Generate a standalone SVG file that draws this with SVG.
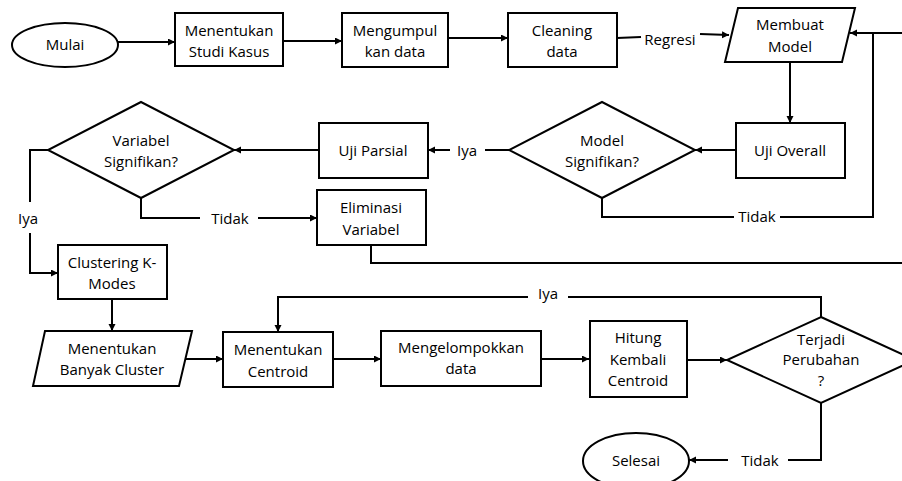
<svg xmlns="http://www.w3.org/2000/svg" width="902" height="481" viewBox="0 0 902 481">
<style>
.s{fill:#fff;stroke:#000;stroke-width:2}
.c{fill:none;stroke:#000;stroke-width:2}
text{font-family:"Open Sans","Noto Sans","Liberation Sans",sans-serif;font-size:15px;fill:#000;text-anchor:middle}
</style>
<defs>
<marker id="a" markerUnits="userSpaceOnUse" markerWidth="8" markerHeight="8" refX="7" refY="3.5" orient="auto">
<path d="M0,0 L7,3.5 L0,7 z" fill="#000"/>
</marker>
</defs>
<rect width="902" height="481" fill="#fff"/>
<g id="connectors">
<path class="c" d="M118,42 H175" marker-end="url(#a)"/>
<path class="c" d="M283,41 H342" marker-end="url(#a)"/>
<path class="c" d="M448,38 H508" marker-end="url(#a)"/>
<path class="c" d="M617,38 L641,37"/>
<text x="670" y="45">Regresi</text>
<path class="c" d="M700,34 L729,35" marker-end="url(#a)"/>
<path class="c" d="M790,63 V123" marker-end="url(#a)"/>
<path class="c" d="M902,33 H850" marker-end="url(#a)"/>
<path class="c" d="M873,33 V217 H780"/>
<path class="c" d="M734,217 H602 V198"/>
<text x="757" y="222">Tidak</text>
<path class="c" d="M736,150 H695" marker-end="url(#a)"/>
<path class="c" d="M509,150 H485"/>
<text x="467" y="156">Iya</text>
<path class="c" d="M450,150 H428" marker-end="url(#a)"/>
<path class="c" d="M319,150 H234" marker-end="url(#a)"/>
<path class="c" d="M141,198 V218 H200"/>
<text x="230" y="224">Tidak</text>
<path class="c" d="M258,218 H317" marker-end="url(#a)"/>
<path class="c" d="M371,245 V263 H902"/>
<path class="c" d="M48,150 H30 V202"/>
<text x="28" y="224">Iya</text>
<path class="c" d="M30,233 V273 H58" marker-end="url(#a)"/>
<path class="c" d="M112,299 V331" marker-end="url(#a)"/>
<path class="c" d="M186,359 H223" marker-end="url(#a)"/>
<path class="c" d="M333,359 H381" marker-end="url(#a)"/>
<path class="c" d="M541,359 H589" marker-end="url(#a)"/>
<path class="c" d="M687,360 H727" marker-end="url(#a)"/>
<path class="c" d="M821,317 V297 H568"/>
<text x="548" y="299">Iya</text>
<path class="c" d="M528,297 H278 V332" marker-end="url(#a)"/>
<path class="c" d="M821,403 V460 H788"/>
<text x="760" y="466">Tidak</text>
<path class="c" d="M728,460 H689" marker-end="url(#a)"/>
</g>
<g id="mulai"><ellipse class="s" cx="65" cy="45" rx="53" ry="22"/><text x="65" y="50">Mulai</text></g>
<g id="studi"><rect class="s" x="175" y="13" width="108" height="53"/><text x="229" y="36">Menentukan</text><text x="229" y="57">Studi Kasus</text></g>
<g id="mengumpul"><rect class="s" x="342" y="13" width="106" height="54"/><text x="395" y="36">Mengumpul</text><text x="395" y="57">kan data</text></g>
<g id="cleaning"><rect class="s" x="508" y="13" width="109" height="54"/><text x="562" y="36">Cleaning</text><text x="562" y="57">data</text></g>
<g id="membuat"><polygon class="s" points="738,8 855,8 842,62 725,62"/><text x="790" y="30">Membuat</text><text x="790" y="52">Model</text></g>
<g id="ujioverall"><rect class="s" x="736" y="123" width="109" height="55"/><text x="790" y="156">Uji Overall</text></g>
<g id="modelsig"><polygon class="s" points="602,102 695,150 602,198 509,150"/><text x="602" y="146">Model</text><text x="602" y="167">Signifikan?</text></g>
<g id="ujiparsial"><rect class="s" x="319" y="123" width="109" height="55"/><text x="373" y="156">Uji Parsial</text></g>
<g id="varsig"><polygon class="s" points="141,102 234,150 141,198 48,150"/><text x="141" y="146">Variabel</text><text x="141" y="167">Signifikan?</text></g>
<g id="eliminasi"><rect class="s" x="317" y="190" width="109" height="55"/><text x="371" y="213">Eliminasi</text><text x="371" y="235">Variabel</text></g>
<g id="clustering"><rect class="s" x="58" y="245" width="109" height="54"/><text x="112" y="268">Clustering K-</text><text x="112" y="289">Modes</text></g>
<g id="banyak"><polygon class="s" points="45,331 192,331 179,386 33,386"/><text x="112" y="354">Menentukan</text><text x="112" y="375">Banyak Cluster</text></g>
<g id="centroid"><rect class="s" x="223" y="332" width="110" height="55"/><text x="278" y="355">Menentukan</text><text x="278" y="377">Centroid</text></g>
<g id="kelompok"><rect class="s" x="381" y="331" width="160" height="55"/><text x="461" y="353">Mengelompokkan</text><text x="461" y="374">data</text></g>
<g id="hitung"><rect class="s" x="590" y="321" width="97" height="76"/><text x="638" y="343">Hitung</text><text x="638" y="365">Kembali</text><text x="638" y="386">Centroid</text></g>
<g id="terjadi"><polygon class="s" points="821,317 915,360 821,403 727,360"/><text x="821" y="345">Terjadi</text><text x="821" y="365">Perubahan</text><text x="821" y="386">?</text></g>
<g id="selesai"><ellipse class="s" cx="636" cy="461" rx="53" ry="28"/><text x="636" y="466">Selesai</text></g>
</svg>
